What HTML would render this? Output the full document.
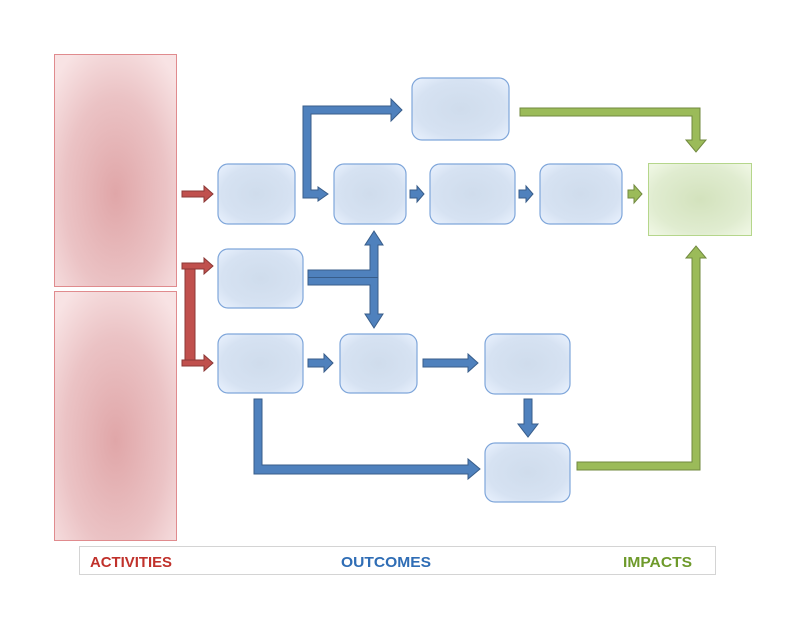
<!DOCTYPE html>
<html><head><meta charset="utf-8"><style>
html,body{margin:0;padding:0;background:#fff;width:800px;height:618px;overflow:hidden}
svg{display:block}
</style></head><body>
<svg width="800" height="618" viewBox="0 0 800 618" xmlns="http://www.w3.org/2000/svg">
<defs>
<radialGradient id="rg" cx="50%" cy="60%" r="70%">
<stop offset="0" stop-color="#e0a6a8"/><stop offset="0.6" stop-color="#ebc3c5"/><stop offset="1" stop-color="#f8e3e4"/>
</radialGradient>
<radialGradient id="bg" cx="50%" cy="50%" r="65%">
<stop offset="0" stop-color="#cfdcec"/><stop offset="0.7" stop-color="#d6e2f2"/><stop offset="1" stop-color="#e6effc"/>
</radialGradient>
<radialGradient id="gg" cx="50%" cy="50%" r="65%">
<stop offset="0" stop-color="#d3e2bd"/><stop offset="0.7" stop-color="#e0ecd0"/><stop offset="1" stop-color="#eef6e2"/>
</radialGradient>
</defs>
<!-- red boxes -->
<rect x="54.5" y="54.5" width="122" height="232" fill="url(#rg)" stroke="#e08b8e"/>
<rect x="54.5" y="291.5" width="122" height="249" fill="url(#rg)" stroke="#e08b8e"/>
<!-- green box -->
<rect x="648.5" y="163.5" width="103" height="72" fill="url(#gg)" stroke="#b5d68b"/>
<!-- blue boxes -->
<g fill="url(#bg)" stroke="#7fa6da" stroke-width="1.2">
<rect x="218" y="164" width="77" height="60" rx="10"/>
<rect x="334" y="164" width="72" height="60" rx="10"/>
<rect x="430" y="164" width="85" height="60" rx="10"/>
<rect x="540" y="164" width="82" height="60" rx="10"/>
<rect x="412" y="78" width="97" height="62" rx="10"/>
<rect x="218" y="249" width="85" height="59" rx="10"/>
<rect x="218" y="334" width="85" height="59" rx="10"/>
<rect x="340" y="334" width="77" height="59" rx="10"/>
<rect x="485" y="334" width="85" height="60" rx="10"/>
<rect x="485" y="443" width="85" height="59" rx="10"/>
</g>
<!-- red arrows -->
<g fill="#c0504d" stroke="#8c3836" stroke-width="1">
<rect x="185" y="266" width="10" height="98"/>
<polygon points="182,191 204,191 204,186 213,194 204,202 204,197 182,197"/>
<polygon points="182,263 204,263 204,258 213,266 204,274 204,269 182,269"/>
<polygon points="182,360 204,360 204,355 213,363 204,371 204,366 182,366"/>
</g>
<!-- blue arrows -->
<g fill="#4f81bd" stroke="#385d8a" stroke-width="1">
<polygon points="303,197 303,106 391,106 391,99 402,110 391,121 391,114 311,114 311,190 318,190 318,187 328,194 318,201 318,198 303,198"/>
<polygon points="410,190 417,190 417,186 424,194 417,202 417,198 410,198"/>
<polygon points="519,190 526,190 526,186 533,194 526,202 526,198 519,198"/>
<polygon points="308,270 370,270 370,245 365,245 374,231 383,245 378,245 378,314 383,314 374,328 365,314 370,314 370,285 308,285"/>
<line x1="308" y1="277.5" x2="378" y2="277.5" stroke="#385d8a"/>
<polygon points="308,359 324,359 324,354 333,363 324,372 324,367 308,367"/>
<polygon points="423,359 468,359 468,354 478,363 468,372 468,367 423,367"/>
<polygon points="524,399 532,399 532,424 538,424 528,437 518,424 524,424"/>
<polygon points="254,399 262,399 262,465 468,465 468,459 480,469 468,479 468,474 254,474"/>
</g>
<!-- green arrows -->
<g fill="#9bbb59" stroke="#71893f" stroke-width="1">
<polygon points="520,108 700,108 700,140 706,140 696,152 686,140 692,140 692,116 520,116"/>
<polygon points="628,190 634,190 634,185 642,194 634,203 634,198 628,198"/>
<polygon points="577,462 692,462 692,258 686,258 696,246 706,258 700,258 700,470 577,470"/>
</g>
<!-- legend -->
<rect x="79.5" y="546.5" width="636" height="28" fill="#fff" stroke="#d4d4d4"/>
<g font-family="Liberation Sans, sans-serif" font-weight="bold" font-size="15">
<text x="90" y="567" fill="#c0312b" textLength="82" lengthAdjust="spacingAndGlyphs">ACTIVITIES</text>
<text x="341" y="567" fill="#2f6db5" textLength="90" lengthAdjust="spacingAndGlyphs">OUTCOMES</text>
<text x="623" y="567" fill="#6e9a2b" textLength="69" lengthAdjust="spacingAndGlyphs">IMPACTS</text>
</g>
</svg>
</body></html>
